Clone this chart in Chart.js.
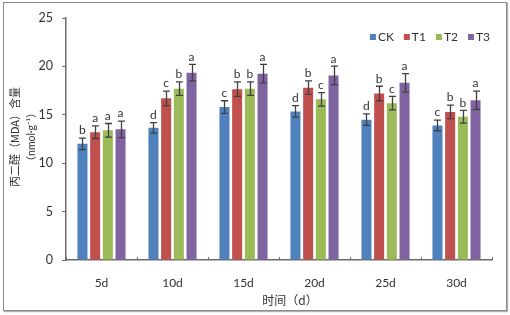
<!DOCTYPE html>
<html>
<head>
<meta charset="utf-8">
<script src="https://cdn.jsdelivr.net/npm/chart.js@4"></script>
<style>
  html, body { margin: 0; padding: 0; background: #fff; }
  #frame { position: absolute; left: 3px; top: 2px; width: 502px; height: 307px; border: 1px solid #8a8a8a; box-shadow: 1px 1px 1px #b0b0b0; }
  #wrap { position: absolute; left: 0; top: 0; width: 510px; height: 315px; }
</style>
</head>
<body>
<div id="frame"></div>
<div id="wrap"><canvas id="c" width="510" height="315"></canvas></div>
<script>
// ---- data ----
const categories = ['5d', '10d', '15d', '20d', '25d', '30d'];
const seriesNames = ['CK', 'T1', 'T2', 'T3'];
const ck = [12.0, 13.65, 15.8, 15.35, 14.5, 13.9];
const t1 = [13.2, 16.7, 17.65, 17.8, 17.2, 15.3];
const t2 = [13.4, 17.7, 17.7, 16.6, 16.2, 14.8];
const t3 = [13.5, 19.35, 19.25, 19.07, 18.3, 16.5];
const ckErr = [0.6, 0.55, 0.65, 0.6, 0.6, 0.55];
const t1Err = [0.65, 0.75, 0.75, 0.7, 0.75, 0.7];
const t2Err = [0.7, 0.7, 0.7, 0.7, 0.7, 0.65];
const t3Err = [0.85, 0.85, 0.95, 0.95, 0.95, 0.95];
const ckSig = ['b', 'd', 'c', 'd', 'd', 'c'];
const t1Sig = ['a', 'c', 'b', 'b', 'b', 'b'];
const t2Sig = ['a', 'b', 'b', 'c', 'c', 'b'];
const t3Sig = ['a', 'a', 'a', 'a', 'a', 'a'];
const yTicks = [0, 5, 10, 15, 20, 25];
const yTitle1 = '丙二醛（MDA）含量';
const yTitle2 = '（nmol·g⁻¹）';
const xTitle = '时间（d）';

const colors = ['#4F81BD', '#C0504D', '#9BBB59', '#8064A2'];
const values = [ck, t1, t2, t3];
const errs = [ckErr, t1Err, t2Err, t3Err];
const sigs = [ckSig, t1Sig, t2Sig, t3Sig];

const axisColor = '#6b6b6b';
const textColor = '#333333';
const numFont = 'Lato, "Liberation Sans", sans-serif';
const cjkFont = '"Noto Sans CJK SC", "Noto Sans", sans-serif';
const mixFont = 'Lato, "Noto Sans CJK SC", sans-serif';

const datasets = seriesNames.map((n, i) => ({
  label: n,
  data: values[i],
  backgroundColor: colors[i],
  borderWidth: 0,
  errors: errs[i],
  sig: sigs[i],
  categoryPercentage: 0.715,
  barPercentage: 0.79
}));

const extras = {
  id: 'extras',
  afterDatasetsDraw(chart) {
    const ctx = chart.ctx;
    const ys = chart.scales.y;
    ctx.save();
    chart.data.datasets.forEach((ds, di) => {
      const meta = chart.getDatasetMeta(di);
      meta.data.forEach((bar, i) => {
        const v = ds.data[i], e = ds.errors[i];
        const yt = ys.getPixelForValue(v + e);
        const yb = ys.getPixelForValue(v - e);
        const x = Math.round(bar.x) + 0.5;
        ctx.strokeStyle = '#404040';
        ctx.lineWidth = 1.3;
        ctx.beginPath();
        ctx.moveTo(x, yt); ctx.lineTo(x, yb);
        ctx.moveTo(x - 3.5, yt); ctx.lineTo(x + 3.5, yt);
        ctx.moveTo(x - 3.5, yb); ctx.lineTo(x + 3.5, yb);
        ctx.stroke();
        ctx.fillStyle = textColor;
        ctx.font = '12px ' + numFont;
        ctx.textAlign = 'center';
        ctx.textBaseline = 'bottom';
        ctx.fillText(ds.sig[i], bar.x, yt - 1.5);
      });
    });
    ctx.restore();
  },
  afterDraw(chart) {
    const ctx = chart.ctx;
    const xs = chart.scales.x, ys = chart.scales.y;
    const area = chart.chartArea;
    ctx.save();
    // x-axis inner ticks at category boundaries
    const step = xs.getPixelForValue(1) - xs.getPixelForValue(0);
    ctx.strokeStyle = axisColor;
    ctx.lineWidth = 1;
    ctx.beginPath();
    for (let i = 0; i <= categories.length; i++) {
      const x = Math.round(xs.getPixelForValue(i) - step / 2) + 0.5;
      ctx.moveTo(x, area.bottom);
      ctx.lineTo(x, area.bottom - 3);
    }
    ctx.stroke();
    // y-axis title (two lines, rotated)
    const cy = (ys.top + ys.bottom) / 2;
    ctx.fillStyle = textColor;
    ctx.textAlign = 'center';
    ctx.textBaseline = 'middle';
    ctx.save();
    ctx.translate(15, cy - 2);
    ctx.rotate(-Math.PI / 2);
    ctx.font = '11px ' + cjkFont;
    ctx.fillText(yTitle1, 0, 0);
    ctx.restore();
    ctx.save();
    ctx.translate(32, cy - 2);
    ctx.rotate(-Math.PI / 2);
    ctx.font = '10.5px ' + mixFont;
    ctx.fillText(yTitle2, 0, 0);
    ctx.restore();
    // x-axis title
    ctx.font = '12px ' + cjkFont;
    ctx.fillText(xTitle, (area.left + area.right) / 2 + 11, 300);
    // legend
    ctx.font = '12px ' + numFont;
    const box = 6, gap = 2, itemGap = 10;
    const widths = chart.data.datasets.map(d => box + gap + ctx.measureText(d.label).width);
    const total = widths.reduce((a, b) => a + b, 0) + itemGap * (widths.length - 1);
    let lx = area.right - 2 - total;
    const ly = 37;
    chart.data.datasets.forEach((d, i) => {
      ctx.fillStyle = d.backgroundColor;
      ctx.fillRect(lx, ly - box / 2, box, box);
      ctx.fillStyle = textColor;
      ctx.textAlign = 'left';
      ctx.fillText(d.label, lx + box + gap, ly + 0.5);
      lx += widths[i] + itemGap;
    });
    ctx.restore();
  }
};

new Chart(document.getElementById('c'), {
  type: 'bar',
  data: { labels: categories, datasets },
  options: {
    responsive: false,
    animation: false,
    devicePixelRatio: 1,
    layout: { padding: { left: 0, top: 18, right: 18, bottom: 0 } },
    plugins: { legend: { display: false }, tooltip: { enabled: false } },
    scales: {
      x: {
        afterFit(s) { s.height = 55; },
        grid: { display: false, drawTicks: false },
        border: { display: true, color: axisColor, width: 1.5 },
        ticks: { color: textColor, font: { family: numFont, size: 12 }, padding: 16 }
      },
      y: {
        min: 0, max: 25,
        afterFit(s) { s.width = 66; },
        afterBuildTicks(s) { s.ticks = yTicks.map(v => ({ value: v })); },
        grid: { display: true, drawOnChartArea: false, drawTicks: true, tickLength: 4, color: axisColor, lineWidth: 1 },
        border: { display: true, color: axisColor, width: 1.5 },
        ticks: { color: textColor, font: { family: numFont, size: 12.5 }, padding: 9 }
      }
    }
  },
  plugins: [extras]
});
</script>
</body>
</html>
